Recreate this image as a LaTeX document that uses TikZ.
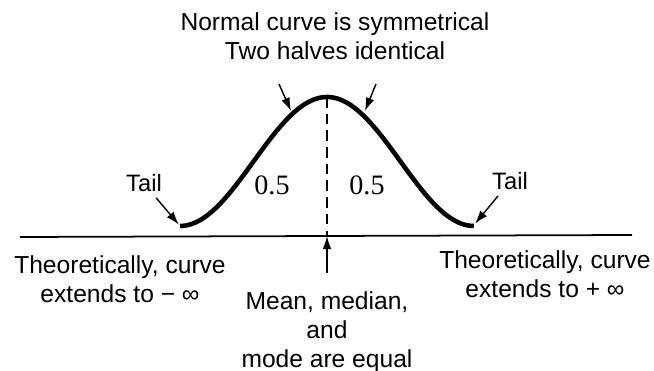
\documentclass[tikz,border=0pt]{standalone}
\usepackage{fontspec}
\setmainfont{Liberation Sans}
\newfontfamily\halffont{Liberation Serif}
\usetikzlibrary{arrows.meta}

\begin{document}
\begin{tikzpicture}[x=0.02cm, y=-0.02cm,
        txt/.style={font=\fontsize{14}{16.5}\selectfont, align=center, inner sep=0pt, anchor=north},
        tl/.style={font=\fontsize{13.5}{16}\selectfont, inner sep=0pt, anchor=base},
        half/.style={font=\halffont\fontsize{16}{19}\selectfont, inner sep=0pt, anchor=base},
        ptr/.style={-{Latex[length=7.5pt, width=5pt]}, line width=0.8pt},
        bell/.style={line width=2.6pt},
        axis/.style={line width=1pt},
        midline/.style={line width=0.8pt, dash pattern=on 6pt off 3.5pt}]
        \useasboundingbox (0,0) rectangle (654,371);
        % axis and the curve
        \coordinate (xl) at (20,237);
        \coordinate (xr) at (632,235);
        \coordinate (top) at (327,97);
        \coordinate (mid) at (327,236);
        \coordinate (cl) at (180,226);
        \coordinate (cr) at (474,225);
        \draw[axis] (xl) -- (xr);
        \draw[bell] plot[domain=-1:1, samples=100, smooth] ({327+147*\x}, {226-64.5*(1+cos(180*\x))});
        \draw[midline] (top) -- (mid);
        % texts
        \node[txt] (title) at (335,12) {Normal curve is symmetrical\\Two halves identical};
        \node[txt] (lft) at (120,255) {Theoretically, curve\\extends to − ∞};
        \node[txt] (rgt) at (545,250) {Theoretically, curve\\extends to + ∞};
        \node[txt] (mean) at (327,291) {Mean, median,\\and\\mode are equal};
        \node[tl] (tl1) at (144,192) {Tail};
        \node[tl] (tl2) at (510,190) {Tail};
        \node[half] (h1) at (272,195) {0.5};
        \node[half] (h2) at (367,195) {0.5};
        % pointers
        \coordinate (pa) at (279,84);
        \coordinate (pb) at (291,111);
        \coordinate (qa) at (376,84);
        \coordinate (qb) at (365,111);
        \draw[ptr] (pa) -- (pb);
        \draw[ptr] (qa) -- (qb);
        \draw[ptr, shorten <=4pt, shorten >=1pt] (tl1) -- (cl);
        \draw[ptr, shorten <=4pt, shorten >=1pt] (tl2) -- (cr);
        \draw[ptr, shorten <=10pt] (mean) -- (mid);
\end{tikzpicture}
\end{document}
